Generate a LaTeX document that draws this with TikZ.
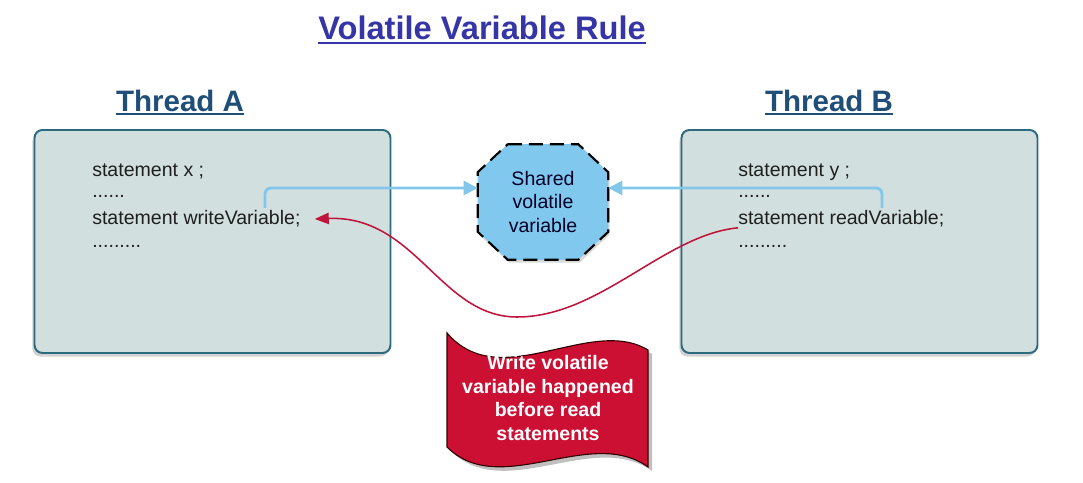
\documentclass[tikz,border=0pt]{standalone}
\usepackage{fontspec}
\setmainfont{Liberation Sans}
\usetikzlibrary{arrows.meta,shadows}
\definecolor{titleblue}{HTML}{3535A8}
\definecolor{threadblue}{HTML}{1F4E79}
\definecolor{boxfill}{HTML}{D2DFDF}
\definecolor{boxedge}{HTML}{2C6B7D}
\definecolor{sharedblue}{HTML}{80C8EE}
\definecolor{linkblue}{HTML}{82C6EA}
\definecolor{flagred}{HTML}{CC1033}
\definecolor{curvered}{HTML}{C0143C}
\newcommand{\ulbox}[2]{\setbox0\hbox{#2}\rlap{\raisebox{-#1}{\rule{\wd0}{1.3pt}}}\box0}

\begin{document}
\begin{tikzpicture}[
  threadbox/.style={draw=boxedge, line width=1.4pt, fill=boxfill, rounded corners=0.2cm,
    minimum width=8.9cm, minimum height=5.575cm,
    drop shadow={shadow xshift=-1.5pt, shadow yshift=-2.5pt, opacity=0.35}},
  threadtitle/.style={anchor=base, font=\fontsize{21}{25}\selectfont\bfseries, text=threadblue},
  codeline/.style={anchor=base west, inner sep=0pt, font=\fontsize{13.9}{17}\selectfont, text=black!88},
  link/.style={draw=linkblue, line width=2pt, rounded corners=0.15cm, -{Triangle[length=10pt,width=10pt]}},
  happens/.style={draw=curvered, line width=1.1pt, -{Triangle[length=10pt,width=8pt]}}
]
\useasboundingbox (0,0) rectangle (27.075,12.075);

% title and thread names
\node (title) at (12.05,11.075) [anchor=base, font=\fontsize{23.2}{28}\selectfont\bfseries, text=titleblue] {\ulbox{2.8pt}{Volatile Variable Rule}};
\node (nameA) at (4.5,9.275) [threadtitle] {\ulbox{2pt}{Thread A}};
\node (nameB) at (20.725,9.275) [threadtitle] {\ulbox{2pt}{Thread B}};

% the two threads
\node (boxA) at (5.3125,6.0375) [threadbox] {};
\node (boxB) at (21.4875,6.0375) [threadbox] {};

\node (xA) at (2.3,7.65) [codeline] {statement x ;};
\node (dotsA) at (2.3,7.125) [codeline] {......};
\node (writeA) at (2.3,6.45) [codeline] {statement writeVariable;};
\node (moreA) at (2.3,5.875) [codeline] {.........};

\node (yB) at (18.45,7.65) [codeline] {statement y ;};
\node (dotsB) at (18.45,7.125) [codeline] {......};
\node (readB) at (18.45,6.45) [codeline] {statement readVariable;};
\node (moreB) at (18.45,5.875) [codeline] {.........};

% shared variable (octagon drawn round the node)
\node (shared) at (13.575,7.025) [minimum width=3.25cm, minimum height=2.875cm, inner sep=0pt] {};
\draw[fill=sharedblue, draw=black, line width=1.5pt, dash pattern=on 10pt off 5pt,
  drop shadow={shadow xshift=1pt, shadow yshift=-2pt, opacity=0.3}]
  ([xshift=0.75cm]shared.north west) -- ([xshift=-0.75cm]shared.north east)
  -- ([yshift=-0.7cm]shared.north east) -- ([yshift=0.7cm]shared.south east)
  -- ([xshift=-0.75cm]shared.south east) -- ([xshift=0.75cm]shared.south west)
  -- ([yshift=0.7cm]shared.south west) -- ([yshift=-0.7cm]shared.north west) -- cycle;
\node (sharedtext) at (shared) [align=center, font=\fontsize{13.9}{17}\selectfont, text={black!85!blue}] {Shared\\volatile\\variable};

\coordinate (tapA) at (6.625,6.875);
\coordinate (tapB) at (22.05,6.875);
\draw[link] (tapA) |- ([yshift=0.35cm]shared.west);
\draw[link] (tapB) |- ([yshift=0.35cm]shared.east);

% happened-before curve
\draw[happens] ([yshift=-2pt]readB.base west) .. controls (16.6,6.2) and (15.0,4.15) .. (12.925,4.15)
  .. controls (11.0,4.15) and (10.4,6.7) .. ([xshift=0.35cm,yshift=0.15cm]writeA.base east);

% banner
\fill[black, opacity=0.25] (11.275,3.65) .. controls (12.6,2.1) and (14.85,4.1) .. (16.3,3.225)
  -- (16.3,0.3) .. controls (14.85,1.35) and (12.6,-0.525) .. (11.275,0.8) -- cycle;
\draw[fill=flagred, draw=black!80!red, line width=0.8pt] (11.175,3.75) .. controls (12.5,2.2) and (14.75,4.2) .. (16.2,3.325)
  -- (16.2,0.4) .. controls (14.75,1.45) and (12.5,-0.425) .. (11.175,0.9) -- cycle;
\node (flag) at (13.7,2.125) [align=center, font=\fontsize{13.9}{17}\selectfont\bfseries, text=white] {Write volatile\\variable happened\\before read\\statements};
\end{tikzpicture}
\end{document}
